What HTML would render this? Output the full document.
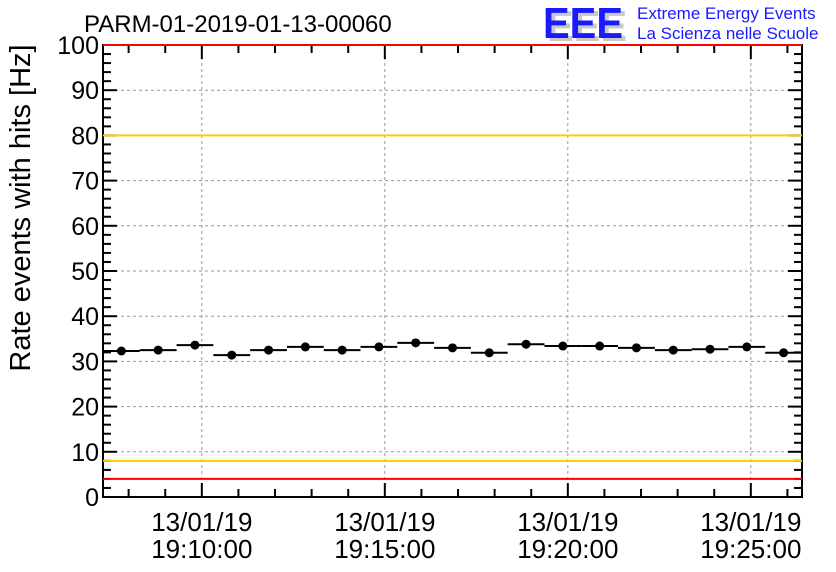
<!DOCTYPE html>
<html><head><meta charset="utf-8"><style>
body{margin:0;background:#fff;}
svg{display:block;font-family:"Liberation Sans",sans-serif;}
</style></head><body>
<svg id="c" width="836" height="572">
<text x="84" y="32" font-size="24">PARM-01-2019-01-13-00060</text>
<g>
<text x="547" y="41" font-size="44" font-weight="bold" fill="#c8c8c8" textLength="80" lengthAdjust="spacingAndGlyphs">EEE</text>
<text x="543" y="38" font-size="44" font-weight="bold" fill="#1a1aff" textLength="80" lengthAdjust="spacingAndGlyphs">EEE</text>
<text x="637" y="19" font-size="17" fill="#1a1aff">Extreme Energy Events</text>
<text x="637" y="39" font-size="17" fill="#1a1aff">La Scienza nelle Scuole</text>
</g>
<text transform="translate(30,208) rotate(-90)" text-anchor="middle" font-size="29">Rate events with hits [Hz]</text>
<g id="grid"></g><g id="axes"></g><g id="marks"></g>
</svg>
<script>
const values=[32.3,32.5,33.6,31.4,32.5,33.2,32.5,33.2,34.1,33,31.9,33.8,33.4,33.4,33,32.5,32.7,33.2,31.9];
const yTicks=[0,10,20,30,40,50,60,70,80,90,100];
const xTickLabels=["19:10:00","19:15:00","19:20:00","19:25:00"];
const xTickMinutes=[10,15,20,25];
const dateLabel="13/01/19";
const redLines=[4,100];
const yellowLines=[8,80];
const L=103,R=802,T=45,B=497;
const x0=7.3, pxPerMin=36.6;
const X=m=>L+(m-x0)*pxPerMin;
const Y=v=>B-(v/100)*(B-T);
const NS="http://www.w3.org/2000/svg";
function mk(t,a,p){const e=document.createElementNS(NS,t);for(const k in a)e.setAttribute(k,a[k]);p.appendChild(e);return e;}
const g=document.getElementById('grid'),ax=document.getElementById('axes'),mg=document.getElementById('marks');
yTicks.forEach(v=>{if(v>0&&v<100){const l=mk('line',{x1:L,x2:R,y1:Y(v),y2:Y(v),stroke:'#999','stroke-dasharray':'3,3'},g);

}
const t=mk('text',{x:L-4,y:Y(v)+9,'text-anchor':'end','font-size':'25'},ax);t.textContent=v;


mk('line',{x1:L,x2:L+14,y1:Y(v),y2:Y(v),stroke:'#000','stroke-width':2},ax);
mk('line',{x1:R,x2:R-14,y1:Y(v),y2:Y(v),stroke:'#000','stroke-width':2},ax);});
for(let v=0;v<100;v+=2){if(v%10){mk('line',{x1:L,x2:L+8,y1:Y(v),y2:Y(v),stroke:'#000','stroke-width':2},ax);mk('line',{x1:R,x2:R-8,y1:Y(v),y2:Y(v),stroke:'#000','stroke-width':2},ax);}}
xTickMinutes.forEach((m,i)=>{const x=X(m);
const gl=mk('line',{x1:x,x2:x,y1:T,y2:B,stroke:'#999','stroke-dasharray':'3,3'},g);


mk('line',{x1:x,x2:x,y1:B,y2:B-14,stroke:'#000','stroke-width':2},ax);
mk('line',{x1:x,x2:x,y1:T,y2:T+14,stroke:'#000','stroke-width':2},ax);
const t1=mk('text',{x:x,y:531,'text-anchor':'middle','font-size':'26'},ax);t1.textContent=dateLabel;


const t2=mk('text',{x:x,y:558,'text-anchor':'middle','font-size':'26'},ax);t2.textContent=xTickLabels[i];

});
for(let m=8;m<=26;m++){if(m%5){const x=X(m);if(x<R){mk('line',{x1:x,x2:x,y1:B,y2:B-8,stroke:'#000','stroke-width':2},ax);mk('line',{x1:x,x2:x,y1:T,y2:T+8,stroke:'#000','stroke-width':2},ax);}}}
mk('rect',{x:L,y:T,width:R-L,height:B-T,fill:'none',stroke:'#000','stroke-width':2},ax);
redLines.forEach(v=>{const l=mk('line',{x1:L,x2:R,y1:Y(v),y2:Y(v),stroke:'#f00','stroke-width':2},mg);

});
yellowLines.forEach(v=>{const l=mk('line',{x1:L,x2:R,y1:Y(v),y2:Y(v),stroke:'#fc0','stroke-width':2},mg);

});
const bw=(R-L)/values.length;
values.forEach((v,i)=>{const xs=L+i*bw,xc=xs+bw/2,y=Y(v);
mk('line',{x1:xs,x2:xs+bw,y1:y,y2:y,stroke:'#000','stroke-width':2},mg);
const c=mk('circle',{cx:xc,cy:y,r:4.5,fill:'#000'},mg);

});
</script>
</body></html>
